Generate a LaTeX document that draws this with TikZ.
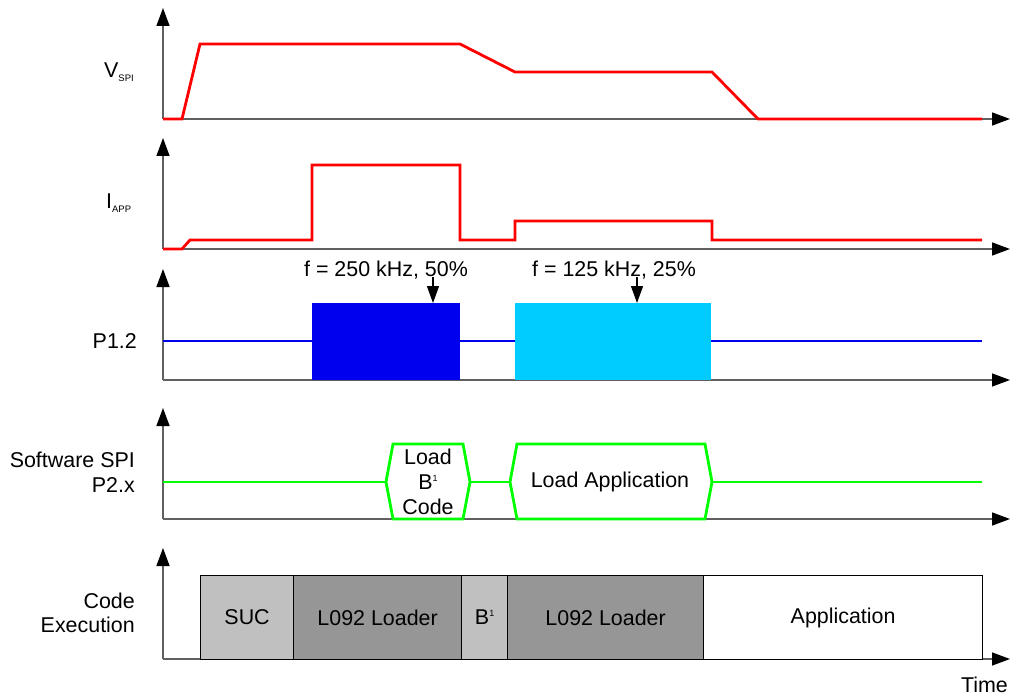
\documentclass[tikz,border=0pt]{standalone}
\usepackage{fontspec}
\setmainfont{Liberation Sans}
\usetikzlibrary{arrows.meta}
% small raised / lowered index text
\newcommand\lowtxt[1]{\raisebox{-4bp}{\fontsize{9.5}{9.5}\selectfont #1}}
\newcommand\hightxt[1]{\raisebox{8bp}{\fontsize{9}{9}\selectfont #1}}
\definecolor{sigred}{RGB}{255,0,0}
\definecolor{sigblue}{RGB}{0,0,238}
\definecolor{pwmlight}{RGB}{0,204,255}
\definecolor{siggreen}{RGB}{0,255,0}
\definecolor{boxlight}{RGB}{192,192,192}
\definecolor{boxdark}{RGB}{150,150,150}
\definecolor{axisgray}{RGB}{96,96,96}
\begin{document}
\begin{tikzpicture}[x=1bp,y=-1bp,
  axis/.style={line width=1.4bp, draw=axisgray, -{Triangle[length=18bp,width=13bp,color=black]}},
  lbl/.style={font=\fontsize{21.5}{25}\selectfont, inner sep=0pt},
  sig/.style={line width=2.8bp, line join=miter},
  codebox/.style={draw=black, line width=1.2bp, minimum height=84bp, inner sep=0pt,
                  anchor=north west, font=\fontsize{21.5}{25}\selectfont},
  marker/.style={line width=1.2bp, -{Triangle[length=17bp,width=12bp]}}
]
\useasboundingbox (0,0) rectangle (1010,698);

% ---- axes of the five traces
\foreach \n/\b in {1/119, 2/249, 3/380, 4/519, 5/659} {
  \coordinate (o\n) at (163,\b);
  \draw[axis] (o\n) -- ++(0,-111);
  \draw[axis] (o\n) -- ++(847,0);
}

% ---- trace labels
\node[lbl, anchor=base west] (lv) at (104,78) {V\lowtxt{SPI}};
\node[lbl, anchor=base west] (li) at (106,208) {I\lowtxt{APP}};
\node[lbl, anchor=base east] (lp) at (137,348) {P1.2};
\node[lbl, anchor=base east] (ls1) at (135,467) {Software SPI};
\node[lbl, anchor=base east] (ls2) at (135,492) {P2.x};
\node[lbl, anchor=base east] (lc1) at (135,608) {Code};
\node[lbl, anchor=base east] (lc2) at (135,632) {Execution};
\node[lbl, anchor=base east] (lt) at (1008,692) {Time};

% ---- supply voltage
\draw[sig, sigred] (163,119) -- (182,119) -- (200,44) -- (460,44) -- (515,72)
  -- (712,72) -- (758,119) -- (982,119);

% ---- application current
\draw[sig, sigred] (163,249) -- (182,249) -- (190,240) -- (312,240) -- (312,165)
  -- (460,165) -- (460,240) -- (515,240) -- (515,221) -- (712,221) -- (712,240)
  -- (982,240);

% ---- P1.2 clock output
\draw[sig, sigblue] (163,341) -- (312,341);
\draw[sig, sigblue] (460,341) -- (515,341);
\draw[sig, sigblue] (711,341) -- (982,341);
\fill[sigblue] (312,303) rectangle (460,380);
\coordinate (pwmA) at (386,303);
\fill[pwmlight] (515,303) rectangle (711,380);
\coordinate (pwmB) at (613,303);
\node[lbl, anchor=base] (fa) at (386,276) {f = 250 kHz, 50\%};
\node[lbl, anchor=base] (fb) at (614,276) {f = 125 kHz, 25\%};
\coordinate (ma) at (433,277);
\coordinate (mb) at (637,277);
\draw[marker] (ma) -- (ma |- pwmA);
\draw[marker] (mb) -- (mb |- pwmB);

% ---- software SPI bus
\draw[sig, siggreen] (163,482) -- (386,482);
\draw[sig, siggreen] (386,482) -- (393,444) -- (463,444) -- (470,482)
  -- (463,519) -- (393,519) -- cycle;
\draw[sig, siggreen] (470,482) -- (510,482);
\draw[sig, siggreen] (510,482) -- (517,444) -- (705,444) -- (712,482)
  -- (705,519) -- (517,519) -- cycle;
\draw[sig, siggreen] (712,482) -- (982,482);
\node[lbl, align=center, anchor=center] (busB) at (428,482) {Load\\B\hightxt{1}\\Code};
\node[lbl, anchor=center] (busApp) at (610,482) {Load Application};

% ---- code execution
\node[codebox, fill=boxlight, minimum width=93bp] (suc) at (200,575) {SUC};
\node[codebox, fill=boxdark, minimum width=168bp] (ld1) at (293,575) {L092 Loader};
\node[codebox, fill=boxlight, minimum width=46bp] (bb) at (461,575) {B\hightxt{1}};
\node[codebox, fill=boxdark, minimum width=196bp] (ld2) at (507,575) {L092 Loader};
\node[codebox, fill=white, minimum width=279bp] (app) at (703,575) {Application};
\end{tikzpicture}
\end{document}
